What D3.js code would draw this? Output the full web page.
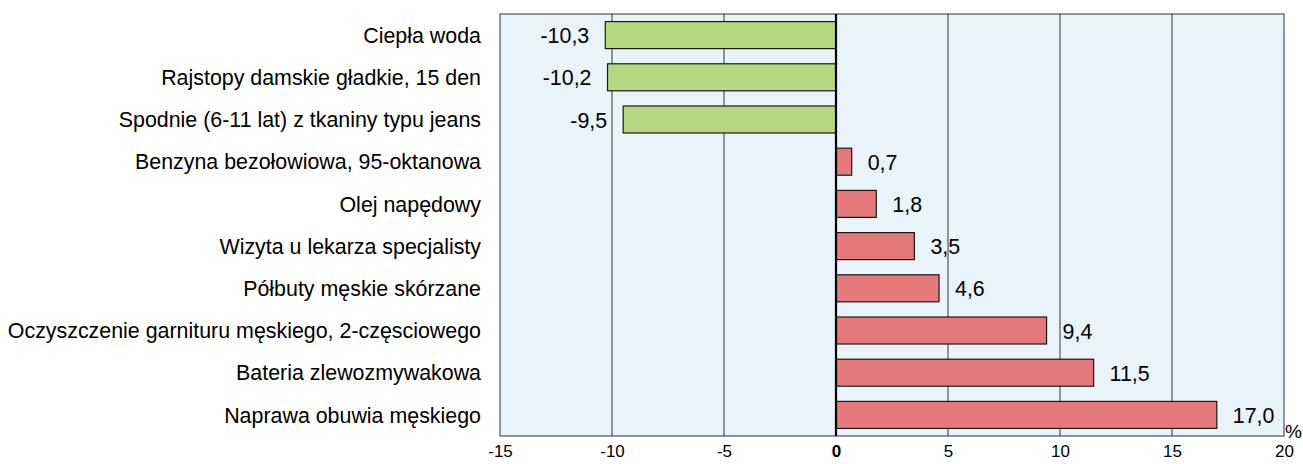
<!DOCTYPE html>
<html>
<head>
<meta charset="utf-8">
<script src="https://cdn.jsdelivr.net/npm/d3@7"></script>
<style>
  body { margin: 0; background: #fff; }
  svg text { font-family: "Liberation Sans", Arial, sans-serif; fill: #000; }
</style>
</head>
<body>
<svg id="chart" width="1303" height="464"></svg>
<script>
// data
const categories = [
  'Ciepła woda',
  'Rajstopy damskie gładkie, 15 den',
  'Spodnie (6-11 lat) z tkaniny typu jeans',
  'Benzyna bezołowiowa, 95-oktanowa',
  'Olej napędowy',
  'Wizyta u lekarza specjalisty',
  'Półbuty męskie skórzane',
  'Oczyszczenie garnituru męskiego, 2-częsciowego',
  'Bateria zlewozmywakowa',
  'Naprawa obuwia męskiego'
];
const values = [-10.3, -10.2, -9.5, 0.7, 1.8, 3.5, 4.6, 9.4, 11.5, 17.0];
const xTicks = [-15, -10, -5, 0, 5, 10, 15, 20];

const margin = {top: 14, right: 19, bottom: 28, left: 500};
const width = 1303 - margin.left - margin.right,
  height = 464 - margin.top - margin.bottom;

const svg = d3.select('#chart')
  .append('g')
  .attr('transform', `translate(${margin.left},${margin.top})`);

const x = d3.scaleLinear().domain([-15, 20]).range([0, width]);
const y = d3.scaleBand().domain(categories).range([0, height]).paddingInner(0.36).paddingOuter(0.18);

// plot background
svg.append('rect')
  .attr('width', width)
  .attr('height', height)
  .attr('fill', '#e8f3fa');

// gridlines
svg.selectAll('.grid')
  .data(xTicks.filter(d => d !== 0 && d !== -15 && d !== 20))
  .enter().append('line')
  .attr('x1', d => x(d)).attr('x2', d => x(d))
  .attr('y1', 0).attr('y2', height)
  .attr('stroke', '#333').attr('stroke-width', 1);

// bars
svg.selectAll('.bar')
  .data(values)
  .enter().append('rect')
  .attr('x', d => x(Math.min(0, d)))
  .attr('y', (d, i) => y(categories[i]))
  .attr('width', d => Math.abs(x(d) - x(0)))
  .attr('height', y.bandwidth())
  .attr('fill', d => d < 0 ? '#b5d97f' : '#e57878')
  .attr('stroke', '#1a1a1a')
  .attr('stroke-width', 1.2);

// value labels
svg.selectAll('.val')
  .data(values)
  .enter().append('text')
  .attr('x', d => d < 0 ? x(d) - 16 : x(d) + 16)
  .attr('y', (d, i) => y(categories[i]) + y.bandwidth() / 2 + 8)
  .attr('text-anchor', d => d < 0 ? 'end' : 'start')
  .style('font-size', '21.4px')
  .text(d => d.toFixed(1).replace('.', ','));

// frame
svg.append('rect')
  .attr('width', width)
  .attr('height', height)
  .attr('fill', 'none')
  .attr('stroke', '#333').attr('stroke-width', 1);

// zero line
svg.append('line')
  .attr('x1', x(0)).attr('x2', x(0))
  .attr('y1', 0).attr('y2', height)
  .attr('stroke', '#000').attr('stroke-width', 2.2);

// x axis
const xAxis = svg.append('g')
  .attr('transform', `translate(0,${height})`)
  .call(d3.axisBottom(x).tickValues(xTicks).tickSize(0).tickPadding(9)
    .tickFormat(d => String(d)));
xAxis.select('.domain').remove();
xAxis.selectAll('text')
  .style('font-size', '17px')
  .style('font-weight', d => d === 0 ? 'bold' : 'normal');

// y axis labels
const yAxis = svg.append('g')
  .call(d3.axisLeft(y).tickSize(0).tickPadding(19));
yAxis.select('.domain').remove();
yAxis.selectAll('text')
  .style('font-size', '21.4px')
  .attr('dy', '0.36em');

// unit
svg.append('text')
  .attr('x', width + 1)
  .attr('y', height + 2)
  .style('font-size', '19px')
  .text('%');
</script>
</body>
</html>
